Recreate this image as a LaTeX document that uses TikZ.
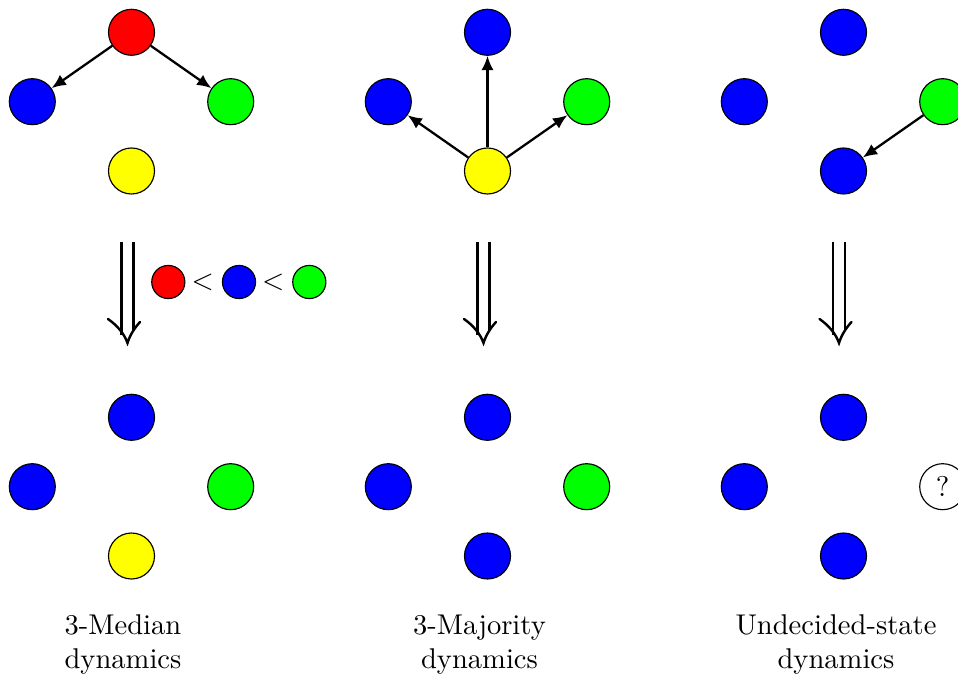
\documentclass[tikz,border=0pt]{standalone}
\usetikzlibrary{arrows.meta}
\definecolor{cred}{RGB}{255,0,0}
\definecolor{cblue}{RGB}{0,0,255}
\definecolor{cgreen}{RGB}{0,255,0}
\definecolor{cyellow}{RGB}{255,255,0}
\begin{document}
\begin{tikzpicture}[x=0.35pt,y=-0.35pt,
  dot/.style={circle,draw=black,line width=0.4pt,minimum size=16.1pt,inner sep=0pt},
  sdot/.style={dot,minimum size=11.6pt},
  conn/.style={line width=0.8pt,-{Latex[length=5pt,width=4.3pt]}},
  dbl/.style={line width=0.85pt},
  lbl/.style={align=center,font=\fontsize{10}{11.7}\selectfont}]
\useasboundingbox (0,0) rectangle (958,681);
% panel 1 top
\node[dot,fill=cred]    (a1) at (131.5,32.3) {};
\node[dot,fill=cblue]   (a2) at (32.3,101.7) {};
\node[dot,fill=cgreen]  (a3) at (230.7,101.7) {};
\node[dot,fill=cyellow] (a4) at (131.5,171) {};
\draw[conn] (a1) -- (a2);
\draw[conn] (a1) -- (a3);
% panel 2 top
\node[dot,fill=cblue]   (b1) at (487.5,32.3) {};
\node[dot,fill=cblue]   (b2) at (388.3,101.7) {};
\node[dot,fill=cgreen]  (b3) at (586.7,101.7) {};
\node[dot,fill=cyellow] (b4) at (487.5,171) {};
\draw[conn] (b4) -- (b1);
\draw[conn] (b4) -- (b2);
\draw[conn] (b4) -- (b3);
% panel 3 top
\node[dot,fill=cblue]   (c1) at (843.5,32.3) {};
\node[dot,fill=cblue]   (c2) at (744.3,101.7) {};
\node[dot,fill=cgreen]  (c3) at (942.7,101.7) {};
\node[dot,fill=cblue]   (c4) at (843.5,171) {};
\draw[conn] (c3) -- (c4);
% double arrows
\foreach \c in {127.5,483.5,839} {
  \draw[dbl] (\c-6.2,242) -- (\c-6.2,335);
  \draw[dbl] (\c+6.2,242) -- (\c+6.2,331);
  \draw[dbl,line cap=round] (\c-19.5,319) .. controls (\c-11,325) and (\c-3.5,333) .. (\c,343)
        .. controls (\c+2.5,335) and (\c+7,328) .. (\c+12.5,322);
}
% legend
\node[sdot,fill=cred]   (r) at (168.3,282) {};
\node (lt1) at (202.7,282) {$<$};
\node[sdot,fill=cblue]  (g) at (239,282) {};
\node (lt2) at (273.3,282) {$<$};
\node[sdot,fill=cgreen] (h) at (309.3,282) {};
% panel 1 bottom
\node[dot,fill=cblue]   (d1) at (131.5,417.3) {};
\node[dot,fill=cblue]   (d2) at (32.3,486.7) {};
\node[dot,fill=cgreen]  (d3) at (230.7,486.7) {};
\node[dot,fill=cyellow] (d4) at (131.5,556) {};
% panel 2 bottom
\node[dot,fill=cblue]   (e1) at (487.5,417.3) {};
\node[dot,fill=cblue]   (e2) at (388.3,486.7) {};
\node[dot,fill=cgreen]  (e3) at (586.7,486.7) {};
\node[dot,fill=cblue]   (e4) at (487.5,556) {};
% panel 3 bottom
\node[dot,fill=cblue]   (f1) at (843.5,417.3) {};
\node[dot,fill=cblue]   (f2) at (744.3,486.7) {};
\node[dot,fill=white]   (f3) at (942.7,486.7) {?};
\node[dot,fill=cblue]   (f4) at (843.5,556) {};
% labels
\node[lbl,anchor=base] (l1) at (123,668.3) {3-Median\\dynamics};
\node[lbl,anchor=base] (l2) at (479.5,668.3) {3-Majority\\dynamics};
\node[lbl,anchor=base] (l3) at (836,668.3) {Undecided-state\\dynamics};
\end{tikzpicture}
\end{document}
